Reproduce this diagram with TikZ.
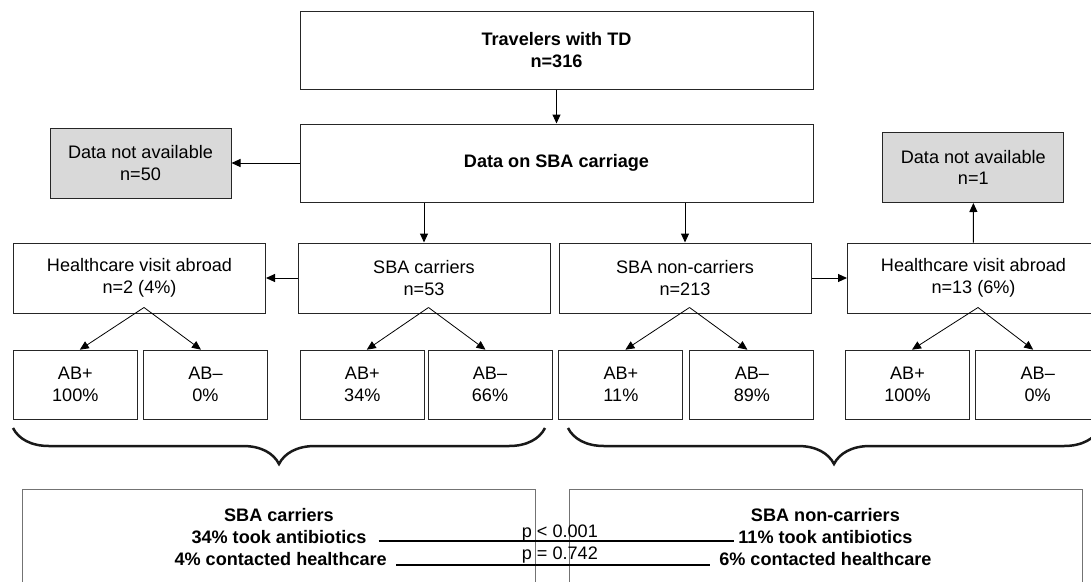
\documentclass[tikz,border=0pt]{standalone}
\usepackage{fontspec}
\setmainfont{Liberation Sans}
\usetikzlibrary{arrows.meta,decorations.pathreplacing}
\newcommand{\flowfont}{\fontsize{18.1}{21.8}\selectfont}

\begin{document}
\begin{tikzpicture}[x=1pt,y=-1pt,
		every node/.style={font=\flowfont, align=center, inner sep=0pt},
		flowbox/.style={draw=black!85, line width=1pt, minimum width=252pt, minimum height=70pt},
		bigbox/.style={flowbox, minimum width=513pt, minimum height=78pt, font=\flowfont\bfseries},
		graybox/.style={flowbox, fill=gray!30, minimum width=181pt},
		abbox/.style={flowbox, minimum width=124pt, minimum height=69pt},
		sumbox/.style={draw=black!55, line width=1pt, minimum width=513pt, minimum height=200pt},
		arr/.style={-{Triangle[length=9pt,width=8pt]}, line width=1pt},
		curly/.style={decorate, decoration={brace, mirror, amplitude=36pt}, line width=2.5pt, black!90},
		pline/.style={line width=1.8pt}]
		\useasboundingbox (0,0) rectangle (1091,581);
		\clip (0,0) rectangle (1091,581);
		% top of the chart
		\node (travel) at (556.5,50)[bigbox]{Travelers with TD\\n=316};
		\node (sba) at (556.5,163)[bigbox]{Data on SBA carriage};
		\node (nal) at (140.5,163)[graybox]{Data not available\\n=50};
		\node (nar) at (973.3,167.5)[graybox]{Data not available\\n=1};
		\node (hvl) at (139.5,278)[flowbox]{Healthcare visit abroad\\n=2 (4\%)};
		\node (car) at (424,278)[flowbox]{SBA carriers\\n=53};
		\node (non) at (685,278)[flowbox]{SBA non-carriers\\n=213};
		\node (hvr) at (973.5,278)[flowbox]{Healthcare visit abroad\\n=13 (6\%)};
		\draw[arr](travel)--(sba);
		\draw[arr](sba)--(nal);
		\draw[arr](sba.south -| car)--(car);
		\draw[arr](sba.south -| non)--(non);
		\draw[arr](car)--(hvl);
		\draw[arr](non)--(hvr);
		\draw[arr](hvr)--(nar);
		% antibiotics
		\node (hvlpos) at (75.3,384.7)[abbox]{AB+\\100\%};
		\node (hvlneg) at (205.5,384.7)[abbox]{AB–\\0\%};
		\node (carpos) at (362.3,384.7)[abbox]{AB+\\34\%};
		\node (carneg) at (490,384.7)[abbox]{AB–\\66\%};
		\node (nonpos) at (620.9,384.7)[abbox]{AB+\\11\%};
		\node (nonneg) at (751.9,384.7)[abbox]{AB–\\89\%};
		\node (hvrpos) at (907.5,384.7)[abbox]{AB+\\100\%};
		\node (hvrneg) at (1037.7,384.7)[abbox]{AB–\\0\%};
		\foreach \p in {hvl,car,non,hvr}{
			\draw[arr,line width=0.8pt]([xshift=4.5pt,yshift=6pt]\p.south)--([xshift=4.5pt]\p pos.north);
			\draw[arr,line width=0.8pt]([xshift=4.5pt,yshift=6pt]\p.south)--([xshift=-4.5pt]\p neg.north);
		}
		\draw[curly](13,428)--(545,428);
		\draw[curly](568,428)--(1100,428);
		% summary
		\node (carsum) at (278.5,589)[sumbox]{};
		\node (nonsum) at (825.5,589)[sumbox]{};
		\node (cartitle) at (279,515)[font=\flowfont\bfseries]{SBA carriers};
		\node (carab) at (279,537.5)[font=\flowfont\bfseries]{34\% took antibiotics};
		\node (carhc) at (280.7,559.5)[font=\flowfont\bfseries]{4\% contacted healthcare};
		\node (nontitle) at (825.4,515.5)[font=\flowfont\bfseries]{SBA non-carriers};
		\node (nonab) at (825.4,537.5)[font=\flowfont\bfseries]{11\% took antibiotics};
		\node (nonhc) at (825.4,559.5)[font=\flowfont\bfseries]{6\% contacted healthcare};
		\node (pab) at (521.7,533)[anchor=west]{p < 0.001};
		\node (phc) at (521.7,555.5)[anchor=west]{p = 0.742};
		\draw[pline,shorten <=12pt,shorten >=4pt]([yshift=-3.5pt]carab.east)--([yshift=-3.5pt]nonab.west);
		\draw[pline,shorten <=9pt,shorten >=9pt]([yshift=-5.5pt]carhc.east)--([yshift=-5.5pt]nonhc.west);
\end{tikzpicture}
\end{document}
